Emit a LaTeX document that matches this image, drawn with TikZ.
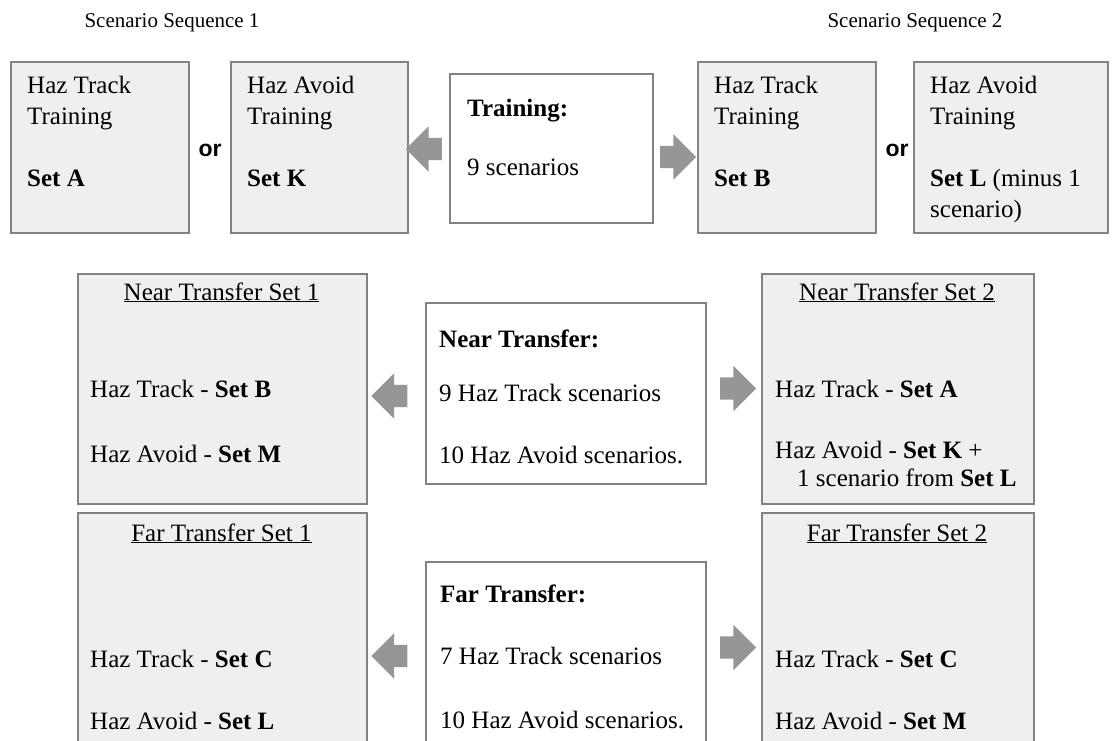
\documentclass[tikz,border=0pt]{standalone}
\usepackage{fontspec}
\setmainfont{Liberation Serif}
\newfontfamily\orfont{Liberation Sans}
\usetikzlibrary{shapes.arrows}

\definecolor{fillgrey}{RGB}{239,239,239}
\definecolor{edgegrey}{RGB}{130,130,130}
\definecolor{arrowgrey}{RGB}{150,150,150}

\tikzset{
  greybox/.style={draw=edgegrey, fill=fillgrey, line width=1.5pt, inner sep=0pt, anchor=north west},
  whitebox/.style={greybox, fill=white},
  txt/.style={anchor=base west, inner sep=0pt, font=\fontsize{25}{30}\selectfont},
  head/.style={anchor=base, inner sep=0pt, font=\fontsize{25}{30}\selectfont},
  ortxt/.style={anchor=base, inner sep=0pt, font=\orfont\bfseries\fontsize{23}{28}\selectfont},
  blockarrow/.style={single arrow, fill=arrowgrey, inner xsep=0pt, inner ysep=11pt,
    minimum height=36pt, single arrow head extend=11.5pt},
  toleft/.style={blockarrow, shape border rotate=180}
}

\begin{document}
\begin{tikzpicture}[x=1pt,y=-1pt]
\clip (0,0) rectangle (1116,740);
\fill[white] (0,0) rectangle (1116,740);

% titles
\node[head, font=\fontsize{21}{26}\selectfont] (seqA) at (172,27) {Scenario Sequence 1};
\node[head, font=\fontsize{21}{26}\selectfont] (seqB) at (915,27) {Scenario Sequence 2};

% training row
\node[greybox, minimum width=178, minimum height=171] (boxA) at (10,61) {};
\node[greybox, minimum width=177, minimum height=171] (boxK) at (230,61) {};
\node[whitebox, minimum width=203, minimum height=149] (train) at (449,73) {};
\node[greybox, minimum width=178, minimum height=171] (boxB) at (697,61) {};
\node[greybox, minimum width=194, minimum height=171] (boxL) at (913,61) {};

\node[txt] (a1) at (27,93) {Haz Track};
\node[txt] (a2) at (27,124) {Training};
\node[txt] (a3) at (27,186) {\textbf{Set A}};
\node[ortxt] (orA) at (210,156) {or};
\node[txt] (k1) at (247,93) {Haz Avoid};
\node[txt] (k2) at (247,124) {Training};
\node[txt] (k3) at (247,186) {\textbf{Set K}};
\node[txt] (t1) at (467,116) {\textbf{Training:}};
\node[txt] (t2) at (467,175) {9 scenarios};
\node[txt] (b1) at (714,93) {Haz Track};
\node[txt] (b2) at (714,124) {Training};
\node[txt] (b3) at (714,186) {\textbf{Set B}};
\node[ortxt] (orB) at (897,156) {or};
\node[txt] (l1) at (930,93) {Haz Avoid};
\node[txt] (l2) at (930,124) {Training};
\node[txt] (l3) at (930,186) {\textbf{Set L} (minus 1};
\node[txt] (l4) at (930,217) {scenario)};

\node[toleft] (arrTL) at (429.5,149) {};
\node[blockarrow] (arrTR) at (672.5,157) {};

% near transfer row
\node[greybox, minimum width=289, minimum height=230] (nearA) at (77,273) {};
\node[whitebox, minimum width=280, minimum height=181] (near) at (425,302) {};
\node[greybox, minimum width=272, minimum height=230] (nearB) at (761,273) {};

\node[head] (na0) at (221.5,300) {\underline{Near Transfer Set 1}};
\node[txt] (na1) at (90,397) {Haz Track - \textbf{Set B}};
\node[txt] (na2) at (90,462) {Haz Avoid - \textbf{Set M}};
\node[txt] (n1) at (439,347) {\textbf{Near Transfer:}};
\node[txt] (n2) at (439,401) {9 Haz Track scenarios};
\node[txt] (n3) at (439,463) {10 Haz Avoid scenarios.};
\node[head] (nb0) at (897,300) {\underline{Near Transfer Set 2}};
\node[txt] (nb1) at (775,397) {Haz Track - \textbf{Set A}};
\node[txt] (nb2) at (775,458) {Haz Avoid - \textbf{Set K} +};
\node[txt] (nb3) at (797,486) {1 scenario from \textbf{Set L}};

\node[toleft] (arrNL) at (395,396) {};
\node[blockarrow] (arrNR) at (732.5,388.5) {};

% far transfer row
\node[greybox, minimum width=289, minimum height=260] (farA) at (77,512) {};
\node[whitebox, minimum width=280, minimum height=210] (far) at (425,561) {};
\node[greybox, minimum width=272, minimum height=260] (farB) at (761,512) {};

\node[head] (fa0) at (221.5,541) {\underline{Far Transfer Set 1}};
\node[txt] (fa1) at (90,667) {Haz Track - \textbf{Set C}};
\node[txt] (fa2) at (90,729) {Haz Avoid - \textbf{Set L}};
\node[txt] (f1) at (440,602) {\textbf{Far Transfer:}};
\node[txt] (f2) at (440,664) {7 Haz Track scenarios};
\node[txt] (f3) at (440,728) {10 Haz Avoid scenarios.};
\node[head] (fb0) at (897,541) {\underline{Far Transfer Set 2}};
\node[txt] (fb1) at (775,667) {Haz Track - \textbf{Set C}};
\node[txt] (fb2) at (775,729) {Haz Avoid - \textbf{Set M}};

\node[toleft] (arrFL) at (395,656) {};
\node[blockarrow] (arrFR) at (732.5,647.5) {};
\end{tikzpicture}
\end{document}
